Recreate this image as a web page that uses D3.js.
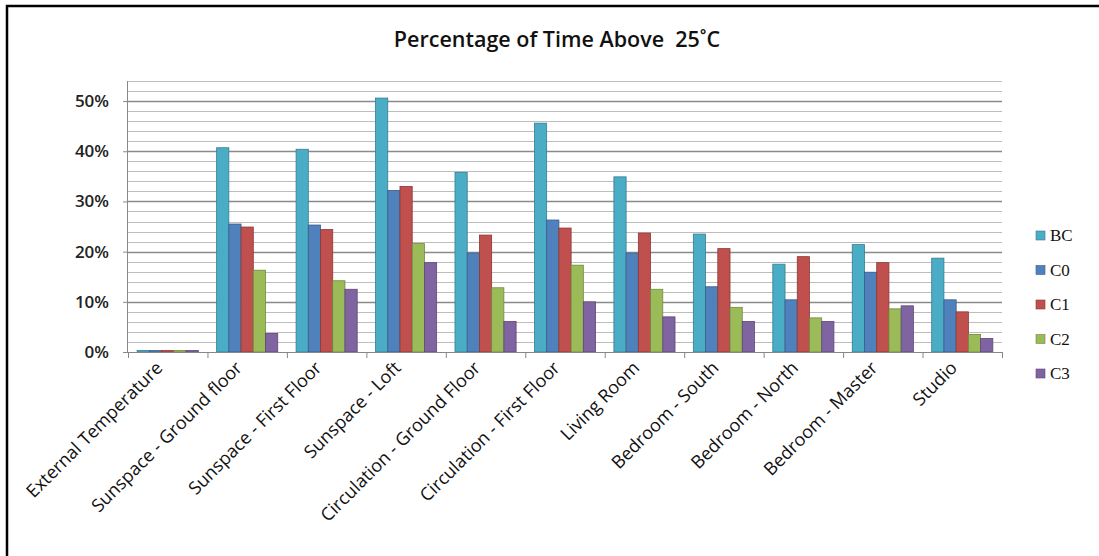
<!DOCTYPE html>
<html>
<head>
<meta charset="utf-8">
<script src="https://cdn.jsdelivr.net/npm/d3@7"></script>
<style>
  body { margin: 0; background: #fff; }
  svg { display: block; }
</style>
</head>
<body>
<svg width="1099" height="556"></svg>
<script>
// categories along the x axis
const categories = [
    "External Temperature",
    "Sunspace - Ground floor",
    "Sunspace - First Floor",
    "Sunspace - Loft",
    "Circulation - Ground Floor",
    "Circulation - First Floor",
    "Living Room",
    "Bedroom - South",
    "Bedroom - North",
    "Bedroom - Master",
    "Studio"
];

// series names and their values (fraction of time above 25 C)
const seriesNames = ["BC", "C0", "C1", "C2", "C3"];
const valuesBC = [0.003, 0.407, 0.404, 0.506, 0.358, 0.456, 0.349, 0.235, 0.175, 0.214, 0.187];
const valuesC0 = [0.003, 0.255, 0.253, 0.322, 0.197, 0.263, 0.197, 0.130, 0.104, 0.159, 0.104];
const valuesC1 = [0.003, 0.249, 0.244, 0.330, 0.233, 0.247, 0.237, 0.206, 0.190, 0.178, 0.080];
const valuesC2 = [0.003, 0.163, 0.142, 0.216, 0.128, 0.173, 0.125, 0.089, 0.068, 0.086, 0.035];
const valuesC3 = [0.003, 0.037, 0.125, 0.178, 0.061, 0.100, 0.070, 0.061, 0.061, 0.092, 0.027];

const yTicks = [0, 0.1, 0.2, 0.3, 0.4, 0.5];
const minorTicks = d3.range(0, 28).map(i => i * 0.02);

const colors = ["#4bacc6", "#4f81bd", "#c0504d", "#9bbb59", "#8064a2"];
const strokes = ["#357d91", "#385d8a", "#8c3836", "#71893f", "#5c4776"];

const svg = d3.select("svg");

// outer frame (only left and top edges show in the picture)
svg.append("rect").attr("width", 1099).attr("height", 556).attr("fill", "#fff");
svg.append("path")
    .attr("d", "M7,556 V6 H1099")
    .attr("fill", "none")
    .attr("stroke", "#000")
    .attr("stroke-width", 2.5);

// scales
const x = d3.scaleBand()
    .domain(categories)
    .range([128, 1002]);

const gap = x.bandwidth() * 1.5 / 6.5;
const xInner = d3.scaleBand()
    .domain(seriesNames)
    .range([gap / 2, x.bandwidth() - gap / 2]);

const y = d3.scaleLinear()
    .domain([0, 0.54])
    .range([352, 81]);

// gridlines
svg.append("g").selectAll("line")
    .data(minorTicks.filter(t => t > 0))
    .enter()
    .append("line")
    .attr("x1", 128)
    .attr("x2", 1002)
    .attr("y1", d => Math.round(y(d)) + 0.5)
    .attr("y2", d => Math.round(y(d)) + 0.5)
    .attr("stroke", d => (Math.round(d * 100) % 10 === 0) ? "#8a8a8a" : "#bdbdbd")
    .attr("stroke-width", d => (Math.round(d * 100) % 10 === 0) ? 1.4 : 1);

// bars
const table = categories.map((c, i) => ({
    category: c,
    values: [valuesBC[i], valuesC0[i], valuesC1[i], valuesC2[i], valuesC3[i]]
}));

const groups = svg.append("g").selectAll("g")
    .data(table)
    .enter()
    .append("g")
    .attr("transform", d => `translate(${x(d.category)}, 0)`);

groups.selectAll("rect")
    .data(d => d.values.map((v, j) => ({ name: seriesNames[j], value: v, j: j })))
    .enter()
    .append("rect")
    .attr("x", d => xInner(d.name))
    .attr("width", xInner.bandwidth())
    .attr("y", d => y(d.value))
    .attr("height", d => y(0) - y(d.value))
    .attr("fill", d => colors[d.j])
    .attr("stroke", d => strokes[d.j])
    .attr("stroke-width", 0.8);

// y axis
const yAxis = svg.append("g")
    .attr("transform", "translate(128, 0)")
    .call(d3.axisLeft(y).tickValues(yTicks).tickFormat(d3.format(".0%")).tickSize(5).tickPadding(14));
yAxis.select(".domain").attr("stroke", "#888").attr("d", `M-0.5,${y(0.54)}V${y(0)}`);
yAxis.selectAll(".tick line").attr("stroke", "#888");
yAxis.selectAll("text")
    .attr("font-family", "'Open Sans', sans-serif")
    .attr("font-weight", 600)
    .attr("font-size", "17px")
    .attr("fill", "#222");

// x axis
const xAxis = svg.append("g")
    .attr("transform", `translate(0, ${y(0)})`)
    .call(d3.axisBottom(x).tickSize(0).tickFormat(""));
xAxis.select(".domain").attr("stroke", "#888");

// category boundary ticks
xAxis.selectAll(".boundary")
    .data(categories.concat(["end"]))
    .enter()
    .append("line")
    .attr("x1", (d, i) => (i < categories.length ? x(d) : x.range()[1]) + 0.5)
    .attr("x2", (d, i) => (i < categories.length ? x(d) : x.range()[1]) + 0.5)
    .attr("y1", 0)
    .attr("y2", 6)
    .attr("stroke", "#888");

// rotated category labels
svg.append("g").selectAll("text")
    .data(categories)
    .enter()
    .append("text")
    .attr("transform", d => `translate(${x(d) + x.bandwidth() / 2 - 4}, ${y(0) + 17}) rotate(-45)`)
    .attr("text-anchor", "end")
    .attr("font-family", "'Open Sans', sans-serif")
    .attr("font-size", "18px")
    .attr("fill", "#111")
    .text(d => d);

// title
svg.append("text")
    .attr("x", 557)
    .attr("y", 47)
    .attr("text-anchor", "middle")
    .attr("font-family", "'Open Sans', sans-serif")
    .attr("font-weight", 600)
    .attr("font-size", "21.5px")
    .attr("fill", "#111")
    .style("white-space", "pre")
    .text("Percentage of Time Above  25˚C");

// legend
const legend = svg.append("g")
    .attr("transform", "translate(1036, 235)");

legend.selectAll("rect")
    .data(seriesNames)
    .enter()
    .append("rect")
    .attr("x", 0)
    .attr("y", (d, i) => i * 34.5 - 4)
    .attr("width", 9)
    .attr("height", 9)
    .attr("fill", (d, i) => colors[i])
    .attr("stroke", (d, i) => strokes[i])
    .attr("stroke-width", 0.6);

legend.selectAll("text")
    .data(seriesNames)
    .enter()
    .append("text")
    .attr("x", 14)
    .attr("y", (d, i) => i * 34.5 + 6)
    .attr("font-family", "'Liberation Serif', serif")
    .attr("font-size", "17px")
    .attr("fill", "#111")
    .text(d => d);
</script>
</body>
</html>
